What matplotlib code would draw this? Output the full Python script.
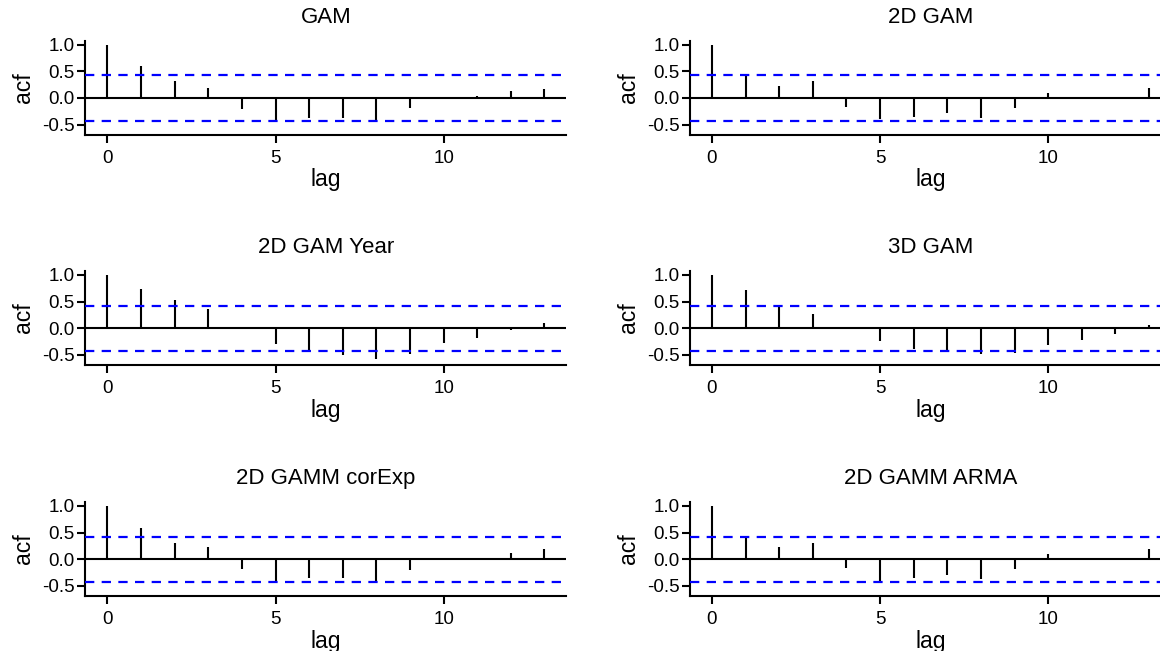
import matplotlib
matplotlib.use("Agg")
import matplotlib.pyplot as plt
import numpy as np

plt.rcParams['font.family'] = ['Liberation Sans', 'DejaVu Sans']
plt.rcParams['axes.unicode_minus'] = False
plt.rcParams['lines.scale_dashes'] = False

lags = np.arange(14)
titles = ["GAM", "2D GAM", "2D GAM Year", "3D GAM", "2D GAMM corExp", "2D GAMM ARMA"]

acf_gam = [1.0, 0.59, 0.31, 0.19, -0.20, -0.41, -0.37, -0.37, -0.42, -0.19, 0.005, 0.04, 0.13, 0.17]
acf_2d_gam = [1.0, 0.42, 0.22, 0.31, -0.17, -0.39, -0.36, -0.29, -0.37, -0.19, 0.09, -0.02, 0.02, 0.19]
acf_2d_gam_year = [1.0, 0.74, 0.52, 0.36, 0.02, -0.29, -0.44, -0.51, -0.58, -0.48, -0.28, -0.19, -0.04, 0.09]
acf_3d_gam = [1.0, 0.71, 0.42, 0.26, 0.03, -0.24, -0.39, -0.42, -0.49, -0.46, -0.31, -0.22, -0.11, 0.06]
acf_2d_gamm_corexp = [1.0, 0.58, 0.31, 0.22, -0.18, -0.41, -0.35, -0.36, -0.42, -0.20, 0.005, 0.02, 0.12, 0.19]
acf_2d_gamm_arma = [1.0, 0.42, 0.22, 0.31, -0.17, -0.40, -0.36, -0.29, -0.37, -0.18, 0.09, -0.02, 0.03, 0.19]

series = [acf_gam, acf_2d_gam, acf_2d_gam_year, acf_3d_gam, acf_2d_gamm_corexp, acf_2d_gamm_arma]
conf_limit = 0.425

yticks = [-0.5, 0.0, 0.5, 1.0]
xticks = [0, 5, 10]

W, H = 1160, 651
fig = plt.figure(figsize=(W / 100, H / 100), dpi=100)

left_px = [85.3, 689.8]
width_px = 481.0
bottom_px = [134.8, 365.1, 596.1]
height_px = 94.0

for i, (vals, title) in enumerate(zip(series, titles)):
    row, col = divmod(i, 2)
    ax = fig.add_axes([left_px[col] / W, 1 - bottom_px[row] / H, width_px / W, height_px / H])
    ax.set_xlim(-0.66, 13.65)
    ax.set_ylim(-0.69, 1.07)
    ax.axhline(0, color='black', lw=1.5, zorder=2)
    ax.vlines(lags, 0, vals, color='black', lw=1.5, zorder=3)
    for c in (conf_limit, -conf_limit):
        ax.axhline(c, color='#0000ff', lw=1.6, linestyle=(0, (6.7, 5.3)), zorder=4)
    for s in ('top', 'right'):
        ax.spines[s].set_visible(False)
    for s in ('left', 'bottom'):
        ax.spines[s].set_linewidth(1.5)
    ax.set_xticks(xticks)
    ax.set_yticks(yticks)
    ax.set_yticklabels([f"{v:.1f}" for v in yticks])
    ax.tick_params(axis='both', width=1.5, length=6, labelsize=13.5, colors='black')
    ax.tick_params(axis='x', pad=5)
    ax.tick_params(axis='y', pad=1.5)
    ax.set_xlabel("lag", fontsize=16.5)
    ax.xaxis.set_label_coords(0.5, -0.48)
    ax.xaxis.label.set_va('center')
    ax.set_ylabel("acf", fontsize=16.5)
    ax.yaxis.set_label_coords(-0.128, 0.5)
    ax.yaxis.label.set_va('center')
    ax.set_title(title, fontsize=16, y=1.16, va='center')
    ax.patch.set_alpha(0)

fig.savefig("out.png", dpi=100)
